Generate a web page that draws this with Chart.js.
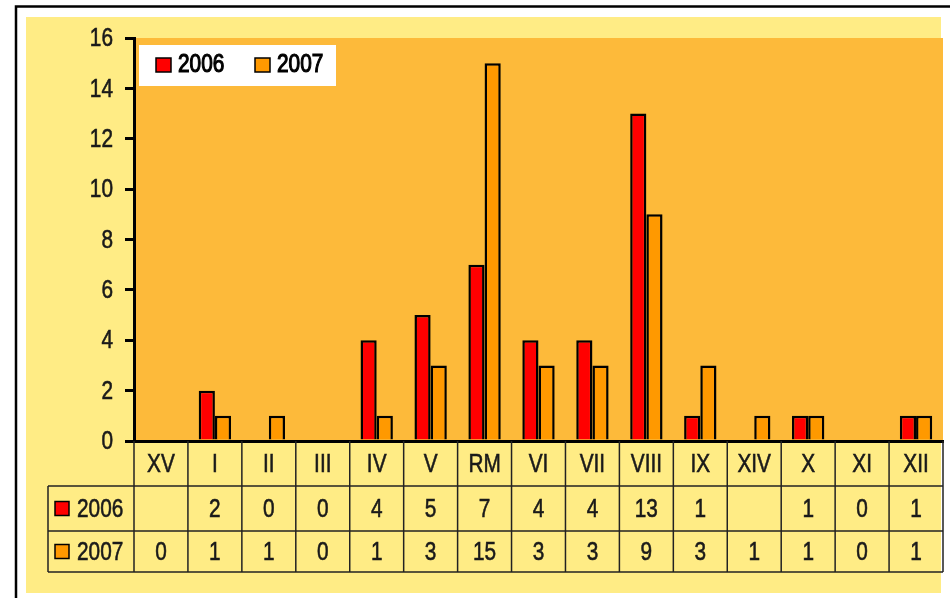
<!DOCTYPE html>
<html>
<head>
<meta charset="utf-8">
<script src="https://cdn.jsdelivr.net/npm/chart.js@4.4.0/dist/chart.umd.min.js"></script>
<style>
    body { margin: 0; background: #fff; }
    canvas { display: block; }
</style>
</head>
<body>
<canvas id="chart" width="950" height="598"></canvas>
<script>
// Chart data
const categories = ['XV', 'I', 'II', 'III', 'IV', 'V', 'RM', 'VI', 'VII', 'VIII', 'IX', 'XIV', 'X', 'XI', 'XII'];
const seriesNames = ['2006', '2007'];
const values2006 = [null, 2, 0, 0, 4, 5, 7, 4, 4, 13, 1, null, 1, 0, 1];
const values2007 = [0, 1, 1, 0, 1, 3, 15, 3, 3, 9, 3, 1, 1, 0, 1];
const yMin = 0;
const yMax = 16;
const yStep = 2;

const FONT = "'Liberation Sans', Arial, sans-serif";
const TEXT = '#1a1a1a';

// narrow-looking text: squeeze a regular face horizontally
function narrowText(ctx, str, x, y, align, weight) {
    const squeeze = 0.8;
    ctx.save();
    ctx.translate(x, y);
    ctx.scale(squeeze, 1);
    ctx.textAlign = align;
    ctx.textBaseline = 'middle';
    ctx.fillText(str, 0, 0);
    ctx.strokeStyle = ctx.fillStyle;
    ctx.lineWidth = weight || 0.6;
    ctx.strokeText(str, 0, 0);
    ctx.restore();
}

// Backgrounds: frame, yellow panel, orange plot area
const backgroundPlugin = {
    id: 'background',
    beforeDraw(chart) {
        const ctx = chart.ctx;
        const area = chart.chartArea;
        ctx.save();
        ctx.fillStyle = '#fff';
        ctx.fillRect(0, 0, chart.width, chart.height);
        ctx.strokeStyle = '#000';
        ctx.lineWidth = 2.5;
        ctx.strokeRect(16, 6.5, 960, 620);
        ctx.fillStyle = '#FFEC85';
        ctx.fillRect(26, 17, 915, 576);
        ctx.fillStyle = '#FDBA3A';
        ctx.fillRect(area.left, area.top, area.right - area.left, area.bottom - area.top);
        ctx.restore();
    }
};

// Y labels, data table under the axis, legend box
const tablePlugin = {
    id: 'dataTable',
    afterDraw(chart) {
        const ctx = chart.ctx;
        const x = chart.scales.x;
        const y = chart.scales.y;
        const area = chart.chartArea;
        const step = x.getPixelForValue(1) - x.getPixelForValue(0);
        const rowTops = [area.bottom, 486, 531, 572];
        const legendLeft = 48;

        ctx.save();
        ctx.fillStyle = TEXT;
        ctx.font = '26px ' + FONT;

        // y tick labels from the scale
        y.ticks.forEach(t => {
            narrowText(ctx, String(t.value), 113, y.getPixelForValue(t.value) + 1, 'right');
        });

        ctx.strokeStyle = '#222';
        ctx.lineWidth = 1.5;

        // horizontal lines
        [rowTops[1], rowTops[2], rowTops[3]].forEach(yy => {
            ctx.beginPath();
            ctx.moveTo(legendLeft, yy);
            ctx.lineTo(area.right, yy);
            ctx.stroke();
        });
        // left edge of legend column
        ctx.beginPath();
        ctx.moveTo(legendLeft, rowTops[1]);
        ctx.lineTo(legendLeft, rowTops[3]);
        ctx.stroke();
        // column separators
        for (let i = 0; i <= categories.length; i++) {
            const cx = i < categories.length ? x.getPixelForValue(i) - step / 2 : area.right;
            ctx.beginPath();
            ctx.moveTo(cx, rowTops[0]);
            ctx.lineTo(cx, rowTops[3]);
            ctx.stroke();
        }

        ctx.fillStyle = TEXT;

        // category labels
        categories.forEach((c, i) => {
            narrowText(ctx, c, x.getPixelForValue(i), (rowTops[0] + rowTops[1]) / 2 + 1, 'center');
        });

        // value rows
        chart.data.datasets.forEach((ds, r) => {
            const cy = (rowTops[r + 1] + rowTops[r + 2]) / 2 + 1;
            ds.data.forEach((v, i) => {
                if (v === null) return;
                narrowText(ctx, String(v), x.getPixelForValue(i), cy, 'center');
            });
            // legend key in table
            ctx.fillStyle = ds.backgroundColor;
            ctx.fillRect(55, cy - 8, 14, 14);
            ctx.strokeStyle = '#000';
            ctx.lineWidth = 1.5;
            ctx.strokeRect(55, cy - 8, 14, 14);
            ctx.fillStyle = TEXT;
            narrowText(ctx, ds.label, 77, cy, 'left');
        });

        // legend box
        ctx.fillStyle = '#fff';
        ctx.fillRect(139, 45, 197, 41);
        const keyX = [156, 255];
        chart.data.datasets.forEach((ds, r) => {
            ctx.fillStyle = ds.backgroundColor;
            ctx.fillRect(keyX[r], 58, 15, 14);
            ctx.strokeStyle = '#000';
            ctx.lineWidth = 1.5;
            ctx.strokeRect(keyX[r], 58, 15, 14);
            ctx.fillStyle = '#000';
            narrowText(ctx, ds.label, keyX[r] + 22, 65, 'left', 1.2);
        });
        ctx.restore();
    }
};

const ctx = document.getElementById('chart').getContext('2d');
new Chart(ctx, {
    type: 'bar',
    data: {
        labels: categories,
        datasets: [{
            label: seriesNames[0],
            data: values2006,
            backgroundColor: '#FF0000',
            borderColor: '#000',
            borderWidth: 2.5
        }, {
            label: seriesNames[1],
            data: values2007,
            backgroundColor: '#FF9900',
            borderColor: '#000',
            borderWidth: 2.5
        }]
    },
    options: {
        responsive: false,
        animation: false,
        layout: { padding: { left: 0, top: 38, right: 7, bottom: 0 } },
        datasets: {
            bar: { barPercentage: 1, categoryPercentage: 0.6, borderSkipped: 'start' }
        },
        plugins: {
            legend: { display: false },
            tooltip: { enabled: false }
        },
        scales: {
            x: {
                grid: { display: false },
                ticks: { display: false },
                border: { display: true, color: '#000', width: 3 },
                afterFit(scale) { scale.height = 598 - 441; }
            },
            y: {
                min: yMin,
                max: yMax,
                grid: {
                    drawOnChartArea: false,
                    drawTicks: true,
                    tickLength: 9,
                    color: '#000',
                    lineWidth: 3
                },
                border: { display: true, color: '#000', width: 3 },
                ticks: { stepSize: yStep, display: false },
                afterFit(scale) { scale.width = 134; }
            }
        }
    },
    plugins: [backgroundPlugin, tablePlugin]
});
</script>
</body>
</html>
